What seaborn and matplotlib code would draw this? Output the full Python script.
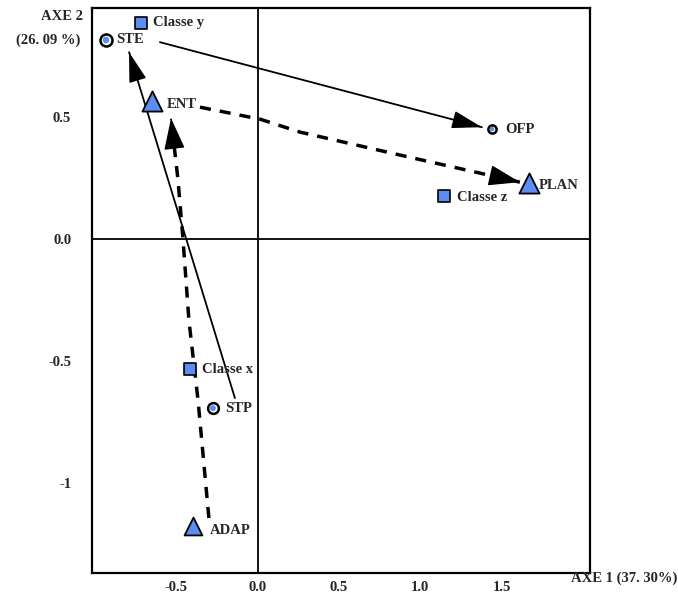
import matplotlib
matplotlib.use("Agg")
import matplotlib.pyplot as plt
import seaborn as sns
import pandas as pd

# ---- data ----
labels = ["Classe y", "STE", "ENT", "OFP", "PLAN", "Classe z", "Classe x", "STP", "ADAP"]
axe1 = [-0.717, -0.933, -0.650, 1.441, 1.669, 1.147, -0.416, -0.275, -0.397]
axe2 = [0.884, 0.815, 0.565, 0.450, 0.229, 0.176, -0.532, -0.692, -1.175]
kinds = ["classe", "var", "mod", "var", "mod", "classe", "classe", "var", "mod"]

# arrow paths (STP -> STE, STE -> OFP solid ; ADAP -> ENT, ENT -> PLAN dashed)
arr1_x = [-0.140, -0.791]
arr1_y = [-0.651, 0.765]
arr2_x = [-0.601, 1.379]
arr2_y = [0.806, 0.458]
arr3_x = [-0.300, -0.367, -0.423, -0.459, -0.490, -0.533]
arr3_y = [-1.142, -0.659, -0.332, -0.004, 0.242, 0.495]
arr4_x = [-0.355, 0.014, 0.260, 0.875, 1.613]
arr4_y = [0.540, 0.491, 0.438, 0.344, 0.233]

xticks = [-0.5, 0.0, 0.5, 1.0, 1.5]
xtick_labels = ["-0.5", "0.0", "0.5", "1.0", "1.5"]
yticks = [-1.0, -0.5, 0.0, 0.5]
ytick_labels = ["-1", "-0.5", "0.0", "0.5"]

df = pd.DataFrame({"label": labels, "x": axe1, "y": axe2, "kind": kinds})

# ---- style ----
sns.set_style("white")
plt.rcParams["font.family"] = ["Liberation Serif", "DejaVu Serif"]
plt.rcParams["font.weight"] = "bold"

BLUE = "#5b8ef0"
FS = 10.5
fig = plt.figure(figsize=(6.78, 5.95), dpi=100)
ax = fig.add_axes([92 / 678, 1 - 573 / 595, (590 - 92) / 678, (573 - 7.5) / 595])
ax.set_xlim(-1.019, 2.044)
ax.set_ylim(-1.367, 0.948)

ax.axhline(0, color="black", lw=1.3, zorder=1)
ax.axvline(0, color="black", lw=1.3, zorder=1)


def arrow(xs, ys, dashed, head_len, head_w):
    ls = (0, (3.2, 2.6)) if dashed else "-"
    lw = 2.5 if dashed else 1.3
    sns.lineplot(x=xs, y=ys, sort=False, estimator=None, color="black",
                 lw=lw, linestyle=ls, ax=ax, zorder=2)
    tx, ty = xs[-1], ys[-1]
    px, py = xs[-2], ys[-2]
    sx = tx - (tx - px) * 0.02
    sy = ty - (ty - py) * 0.02
    ax.annotate("", xy=(tx, ty), xytext=(sx, sy),
                arrowprops=dict(arrowstyle=f"-|>,head_length={head_len},head_width={head_w}",
                                color="black", lw=1, shrinkA=0, shrinkB=0,
                                mutation_scale=20), zorder=3)


arrow(arr1_x, arr1_y, False, 0.95, 0.28)
arrow(arr2_x, arr2_y, False, 0.95, 0.28)
arrow(arr3_x, arr3_y, True, 1.0, 0.33)
arrow(arr4_x, arr4_y, True, 1.0, 0.33)

# markers
msize = {"Classe y": 65, "Classe z": 65, "Classe x": 75,
         "STE": 75, "OFP": 35, "STP": 60,
         "ENT": 210, "PLAN": 210, "ADAP": 165}
for _, r in df.iterrows():
    if r["kind"] == "classe":
        sns.scatterplot(x=[r["x"]], y=[r["y"]], marker="s", s=msize[r["label"]],
                        color=BLUE, edgecolor="black", linewidth=1.2, ax=ax, zorder=4)
    elif r["kind"] == "mod":
        sns.scatterplot(x=[r["x"]], y=[r["y"]], marker="^", s=msize[r["label"]],
                        color=BLUE, edgecolor="black", linewidth=1.3, ax=ax, zorder=4)
    else:
        sns.scatterplot(x=[r["x"]], y=[r["y"]], marker="o", s=msize[r["label"]],
                        color="white", edgecolor="black", linewidth=1.8, ax=ax, zorder=4)
        sns.scatterplot(x=[r["x"]], y=[r["y"]], marker="o", s=msize[r["label"]] * 0.3,
                        color=BLUE, edgecolor="none", linewidth=0, ax=ax, zorder=5)

offsets = {"Classe y": (12, 1), "STE": (10, 0), "ENT": (15, -3), "OFP": (13, 0),
           "PLAN": (10, -2), "Classe z": (13, -1), "Classe x": (12, 0),
           "STP": (12, 0), "ADAP": (17, -4)}
for _, r in df.iterrows():
    dx, dy = offsets[r["label"]]
    ax.annotate(r["label"], xy=(r["x"], r["y"]), xytext=(dx, dy),
                textcoords="offset pixels", ha="left", va="center",
                fontsize=FS, fontweight="bold", zorder=6)

ax.set_xticks(xticks)
ax.set_xticklabels(xtick_labels)
ax.set_yticks(yticks)
ax.set_yticklabels(ytick_labels)
ax.tick_params(axis="both", direction="inout", length=6, width=1.3,
               labelsize=FS, color="black")
ax.tick_params(axis="x", pad=3)
ax.tick_params(axis="y", pad=12)
for lab in ax.get_xticklabels() + ax.get_yticklabels():
    lab.set_fontweight("bold")
for sp in ax.spines.values():
    sp.set_color("black")
    sp.set_linewidth(1.6)
ax.set_xlabel("")
ax.set_ylabel("")

fig.text(83 / 678, 1 - 17 / 595, "AXE 2", ha="right", va="center",
         fontsize=FS, fontweight="bold")
fig.text(48 / 678, 1 - 40 / 595, "(26. 09 %)", ha="center", va="center",
         fontsize=FS, fontweight="bold")
fig.text(677 / 678, 1 - 578 / 595, "AXE 1 (37. 30%)", ha="right", va="center",
         fontsize=FS, fontweight="bold")

fig.savefig("out.png", dpi=100)
